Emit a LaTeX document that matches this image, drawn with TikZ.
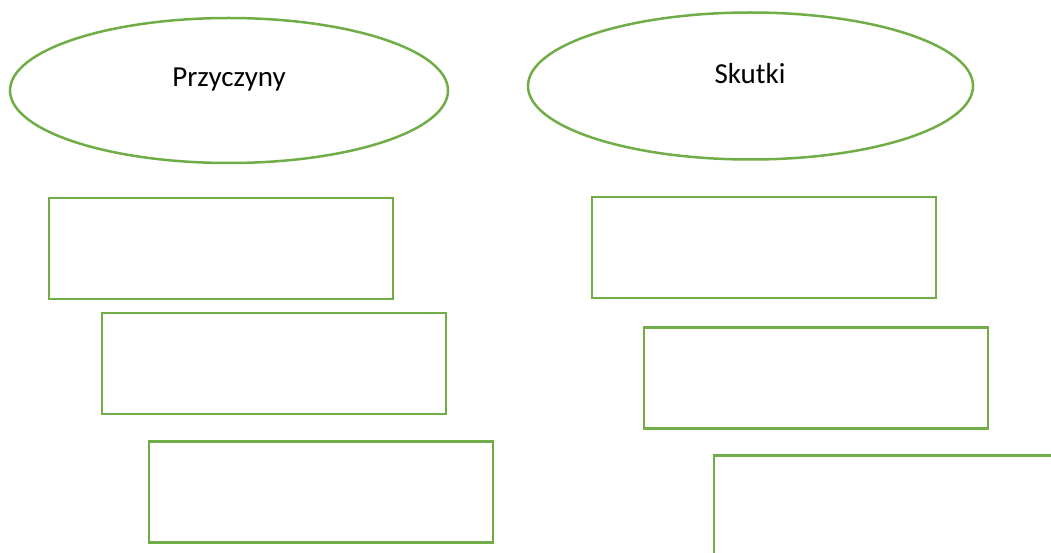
\documentclass[tikz,border=0pt]{standalone}
\usepackage{fontspec}
\setmainfont{Carlito}
\usetikzlibrary{shapes.geometric}
\definecolor{ogreen}{HTML}{70AD47}
\begin{document}
\begin{tikzpicture}[x=1pt,y=-1pt,
  oval/.style={ellipse,draw=ogreen,line width=2.5pt,inner sep=0pt},
  box/.style={draw=ogreen,line width=2.5pt,rectangle,inner sep=0pt,minimum width=344pt,minimum height=101pt},
  lbl/.style={font=\fontsize{29}{31}\selectfont,text=black}]
\useasboundingbox (0,0) rectangle (1051,553);
\clip (0,0) rectangle (1051,553);
\fill[white] (0,0) rectangle (1051,553);
\node[oval,minimum width=438pt,minimum height=145pt] (e1) at (229,90.5) {};
\node[lbl] (t1) at (229,80) {Przyczyny};
\node[oval,minimum width=445pt,minimum height=147pt] (e2) at (750.5,86) {};
\node[lbl] (t2) at (750,74) {Skutki};
\node[box] (l1) at (221,248.5) {};
\node[box] (l2) at (274,363.5) {};
\node[box] (l3) at (321,492) {};
\node[box] (r1) at (764,247.5) {};
\node[box] (r2) at (816,378) {};
\node[box] (r3) at (886,506) {};
\end{tikzpicture}
\end{document}
